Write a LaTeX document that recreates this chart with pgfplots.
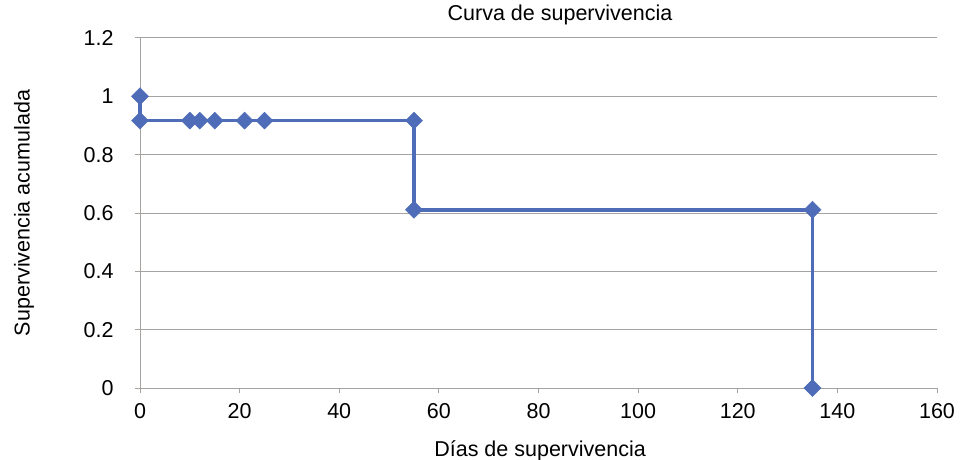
\documentclass[border=0pt]{standalone}
\usepackage{pgfplots}
\pgfplotsset{compat=1.18}
\usepackage{fontspec}
\setmainfont{Liberation Sans}
\definecolor{serie}{RGB}{78,108,184}
\definecolor{rejilla}{RGB}{165,162,160}
\newcommand{\fs}{\fontsize{21.5bp}{25bp}\selectfont}
\begin{document}
\begin{tikzpicture}
\path[use as bounding box] (0,0) rectangle (967bp,460bp);
\begin{axis}[
  at={(140bp,72bp)}, anchor=south west,
  scale only axis, width=797bp, height=350bp,
  xmin=0, xmax=160, ymin=0, ymax=1.2,
  xtick={0,20,40,60,80,100,120,140,160},
  ytick={0,0.2,0.4,0.6,0.8,1,1.2},
  axis x line*=bottom, axis y line*=left,
  axis line style={rejilla, line width=1pt, -},
  tick align=outside, major tick length=5bp,
  tick style={rejilla, line width=1pt},
  ymajorgrids, grid style={rejilla, line width=1pt},
  /pgf/number format/assume math mode=true,
  ticklabel style={font=\fs},
  xticklabel style={yshift=-7bp},
  yticklabel style={xshift=-18bp},
  clip=false,
  title={Curva de supervivencia},
  title style={at={(axis description cs:0.527,1)}, anchor=base, yshift=12bp, font=\fs},
  xlabel={Días de supervivencia},
  xlabel style={at={(axis description cs:0.502,0)}, anchor=base, yshift=-68bp, font=\fs},
  ylabel={Supervivencia acumulada},
  ylabel style={at={(axis description cs:-0.1455,0.5)}, anchor=center, font=\fs},
]
\addplot[serie, line width=3.5bp, mark=square*, mark size=6bp, mark options={rotate=45, solid, fill=serie, draw=serie, line width=0.5bp}]
coordinates {
(0,1) (0,0.9167) (10,0.9167) (12,0.9167) (15,0.9167) (21,0.9167) (25,0.9167)
(55,0.9167) (55,0.6111) (135,0.6111) (135,0)
};
\end{axis}
\end{tikzpicture}
\end{document}
